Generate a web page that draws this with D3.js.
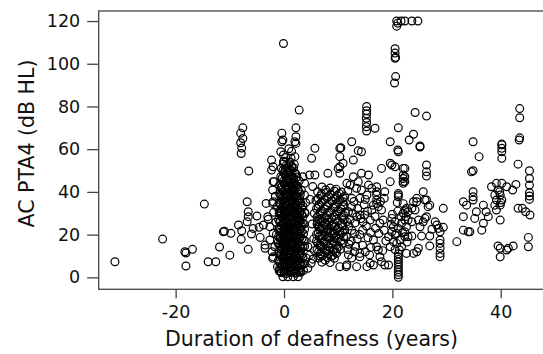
<!DOCTYPE html>
<html>
<head>
    <meta charset="utf-8">
    <title>PTA4 vs duration of deafness</title>
    <script src="https://d3js.org/d3.v7.min.js"></script>
    <style>
        body { margin: 0; background: #fff; }
        text { font-family: "DejaVu Sans", Verdana, sans-serif; fill: #111; }
    </style>
</head>
<body>
    <div id="view"></div>
    <script>
        // tick values
        var xTicks = [-20, 0, 20, 40];
        var yTicks = [0, 20, 40, 60, 80, 100, 120];

        // points, [years, dB HL], grouped by region
        var leftTail = [[-31.2,7.3],[-22.4,17.9],[-18.3,12.0],[-18.1,11.4],[-16.9,13.1],[-18.1,5.3],[-14.7,34.3],[-14.0,7.3],[-12.6,7.3],
            [-11.9,14.2],[-11.2,21.3],[-11.0,21.6],[-10.0,10.4],[-9.8,20.6],[-8.4,24.5],[-7.8,21.8],[-7.9,17.8],[-6.6,13.1],[-6.8,35.4],
            [-6.5,49.8],[-6.6,30.7],[-6.6,28.4],[-6.8,26.0],[-5.0,28.7],[-5.7,22.9],[-6.0,20.3],[-4.6,23.4],[-3.8,24.5],[-2.9,27.2],
            [-4.4,18.7],[-3.3,34.6],[-2.1,34.6],[-3.5,15.1],[-3.5,13.6],[-2.1,8.9],[-2.1,40.9],[-1.8,44.8],[-2.3,54.9],[-2.3,50.2],
            [-7.6,70.0],[-8.0,67.5],[-7.6,65.0],[-8.0,63.0],[-7.8,60.5],[-7.9,58.0],[-3.0,28.4],[-2.6,23.7],[-2.0,20.6],[-2.6,17.5],
            [-1.7,14.3],[-2.0,9.6],[-2.0,51.8],[-2.0,44.8],[-2.0,35.4],[-1.6,38.0],[-1.9,30.5],[-1.5,25.8],[-2.2,12.0]];

        var onsetColumn = [[-0.1,109.5],[-0.4,67.5],[-0.4,63.5],[2.2,70.0],[2.2,65.8],[2.2,62.7],[-0.2,64.3],[2.0,63.5],[2.8,78.3],
            [-0.1,57.3],[-0.1,54.1],[2.0,56.5],[0.9,60.2],[1.4,59.0],[-0.6,58.8],[3.2,40.9],[3.8,38.5],[2.9,37.0],[3.5,47.1],[4.7,47.9],
            [5.1,55.7],[5.7,60.4],[4.4,14.3],[4.7,10.4],[5.0,6.6],[4.4,4.2],[-0.2,0.3],[0.7,0.3],[1.7,0.3],[2.6,0.3],
            [-0.5,2.1],[0.4,1.8],[1.3,2.3],[2.2,1.9],[3.1,2.4],[-0.8,4.2],[0.1,3.9],[1.0,4.4],[2.0,4.0],[2.9,4.3],
            [-0.3,6.1],[0.6,5.8],[1.5,6.3],[2.5,6.0],[3.4,6.2],[-1.0,8.0],[0.0,8.3],[0.9,7.9],[1.9,8.2],[2.8,7.8],
            [-0.6,10.1],[0.3,9.8],[1.2,10.3],[2.3,10.0],[3.2,10.2],[-0.9,12.2],[0.2,11.9],[1.1,12.4],[2.0,12.0],[3.0,12.3],
            [-0.4,14.0],[0.5,14.3],[1.4,13.8],[2.4,14.1],[3.5,14.4],[-1.1,16.2],[-0.1,15.9],[0.8,16.4],[1.7,16.0],[2.7,16.3],
            [-0.7,18.1],[0.3,17.8],[1.3,18.3],[2.2,18.0],[3.3,18.2],[-0.2,20.0],[0.7,20.3],[1.6,19.8],[2.6,20.1],[3.6,20.4],
            [-1.0,22.2],[0.0,21.9],[1.0,22.4],[1.9,22.0],[2.9,22.3],[-0.5,24.1],[0.4,23.8],[1.3,24.3],[2.3,24.0],[3.2,24.2],
            [-0.8,26.0],[0.2,26.3],[1.1,25.8],[2.1,26.1],[3.0,26.4],[-0.3,28.2],[0.6,27.9],[1.5,28.4],[2.5,28.0],[3.5,28.3],
            [-0.9,30.1],[0.1,29.8],[1.0,30.3],[2.0,30.0],[2.9,30.2],[-0.4,32.0],[0.5,32.3],[1.4,31.8],[2.4,32.1],[3.3,32.4],
            [-0.7,34.2],[0.3,33.9],[1.2,34.4],[2.2,34.0],[-0.2,36.1],[0.8,35.8],[1.7,36.3],[2.7,36.0],
            [-0.6,38.0],[0.4,38.3],[1.3,37.8],[2.3,38.1],[-0.1,40.2],[0.9,39.9],[1.8,40.4],[2.8,40.0],
            [-0.5,42.1],[0.5,41.8],[1.5,42.3],[2.4,42.6],[0.0,44.0],[1.0,44.3],[2.0,43.8],[-0.3,46.2],[0.7,45.9],[1.7,46.4],
            [0.2,48.1],[1.2,47.8],[2.2,48.3],[-0.2,50.0],[0.8,50.3],[1.8,51.2],[0.4,52.4],[1.4,52.0],[0.0,54.3],[1.1,54.0],
            [3.9,30.0],[3.7,25.0],[4.0,35.0],[-1.4,20.0],[-1.3,33.0],[3.9,17.0],[4.1,9.0],[-1.2,5.0],[3.8,44.0],
            [-0.9,3.1],[0.0,2.9],[0.9,3.2],[1.8,3.0],[2.7,2.8],[3.6,3.3],[-0.4,5.0],[0.5,5.2],[1.4,4.9],[2.3,5.1],[3.2,5.3],
            [-0.9,7.1],[0.0,6.9],[1.0,7.2],[2.0,7.0],[3.0,6.8],[-0.3,9.0],[0.6,9.2],[1.5,8.9],[2.5,9.1],[3.5,9.3],
            [-1.0,11.1],[0.0,10.9],[0.9,11.2],[1.9,11.0],[2.8,10.8],[-0.5,13.0],[0.4,13.2],[1.3,12.9],[2.3,13.1],[3.2,13.3],
            [-0.9,15.1],[0.1,14.9],[1.0,15.2],[2.0,15.0],[3.0,14.8],[-0.4,17.0],[0.5,17.2],[1.5,16.9],[2.5,17.1],[3.6,17.3],
            [-1.0,19.1],[0.0,18.9],[0.9,19.2],[1.9,19.0],[2.9,18.8],[-0.6,21.0],[0.4,21.2],[1.3,20.9],[2.3,21.1],[3.2,21.3],
            [-0.9,23.1],[0.1,22.9],[1.0,23.2],[2.0,23.0],[3.0,22.8],[-0.3,25.0],[0.6,25.2],[1.5,24.9],[2.5,25.1],[3.4,25.3],
            [-1.0,27.1],[0.0,26.9],[0.9,27.2],[1.9,27.0],[2.9,26.8],[-0.5,29.0],[0.4,29.2],[1.4,28.9],[2.3,29.1],[3.3,29.3],
            [-0.8,31.1],[0.1,30.9],[1.1,31.2],[2.0,31.0],[3.0,30.8],[-0.3,33.0],[0.6,33.2],[1.6,32.9],[2.5,33.1],[3.5,33.3],
            [-0.9,35.1],[0.1,34.9],[1.0,35.2],[2.0,35.0],[3.1,34.8],[-0.4,37.0],[0.5,37.2],[1.5,36.9],[2.5,37.1],
            [-0.8,39.1],[0.1,38.9],[1.1,39.2],[2.0,39.0],[3.0,38.8],[-0.3,41.0],[0.7,41.2],[1.7,40.9],[2.6,41.1],
            [-0.8,43.1],[0.3,42.9],[1.3,43.2],[2.3,43.0],[-0.1,45.0],[0.9,45.2],[1.9,44.9],[2.8,45.1],
            [-0.6,47.1],[0.4,46.9],[1.4,47.2],[2.4,47.0],[0.0,49.0],[1.0,49.2],[2.0,48.9],
            [-0.5,51.1],[0.5,50.9],[1.5,51.2],[-0.1,53.0],[0.9,53.2],[1.9,52.9],[0.3,56.1],[1.3,55.8],
            [-0.65,2.6],[0.25,2.5],[1.15,2.7],[2.05,2.4],[2.95,2.6],[-0.65,6.6],[0.25,6.5],[1.15,6.7],[2.05,6.4],[2.95,6.6],[3.8,6.5],
            [-0.65,10.6],[0.25,10.5],[1.15,10.7],[2.05,10.4],[2.95,10.6],[-0.65,14.6],[0.25,14.5],[1.15,14.7],[2.05,14.4],[2.95,14.6],[3.8,14.5],
            [-0.65,18.6],[0.25,18.5],[1.15,18.7],[2.05,18.4],[2.95,18.6],[-0.65,22.6],[0.25,22.5],[1.15,22.7],[2.05,22.4],[2.95,22.6],[3.8,22.5],
            [-0.65,26.6],[0.25,26.5],[1.15,26.7],[2.05,26.4],[2.95,26.6],[-0.65,30.6],[0.25,30.5],[1.15,30.7],[2.05,30.4],[2.95,30.6],[3.8,30.5],
            [-0.65,34.6],[0.25,34.5],[1.15,34.7],[2.05,34.4],[2.95,34.6],[-0.65,38.6],[0.25,38.5],[1.15,38.7],[2.05,38.4],
            [-0.35,42.6],[0.65,42.5],[1.75,42.7],[-0.35,46.6],[0.65,46.5],[1.75,46.7],[0.25,50.6],[1.15,50.5]];

        var earlyCluster = [[7.0,42.3],[8.5,41.8],[6.2,40.1],[7.8,39.8],[9.3,40.4],[10.6,39.9],[6.8,38.2],[8.2,37.7],[9.8,38.3],[11.2,37.9],
            [5.9,36.0],[7.4,36.4],[8.9,35.8],[10.3,36.2],[6.5,34.1],[8.0,33.8],[9.5,34.3],[11.0,34.0],[6.0,32.2],[7.5,31.9],[9.1,32.4],[10.5,32.0],
            [6.7,30.0],[8.3,30.3],[9.8,29.8],[11.3,30.1],[6.1,28.2],[7.6,27.9],[9.2,28.4],[10.7,28.0],[6.9,26.1],[8.4,25.8],[10.0,26.3],
            [6.3,24.0],[7.9,24.3],[9.4,23.8],[10.9,24.1],[6.6,22.2],[8.1,21.9],[9.7,22.4],[11.2,22.0],[6.0,20.1],[7.5,19.8],[9.0,20.3],[10.4,20.0],
            [6.8,18.0],[8.3,18.3],[9.9,17.8],[6.2,16.1],[7.7,15.8],[9.3,16.3],[10.8,16.0],[6.9,14.2],[8.5,13.9],[10.1,14.4],
            [6.4,12.0],[7.9,12.3],[9.5,11.8],[7.1,10.1],[8.7,9.8],[7.6,8.0],
            [8.1,48.7],[10.0,51.0],[10.3,48.7],[10.3,60.4],[10.3,56.5],[5.7,47.9],[10.3,5.0],[11.5,5.0],[5.3,8.5],[5.6,12.5],
            [5.5,18.0],[5.2,25.0],[5.6,30.0],[4.8,36.5],[5.3,42.5],
            [7.7,41.0],[9.6,41.3],[6.9,39.1],[8.6,38.9],[10.2,39.2],[6.3,37.0],[7.9,37.2],[9.5,36.9],[10.9,37.1],
            [6.9,35.1],[8.4,34.9],[10.0,35.2],[6.3,33.0],[7.8,33.2],[9.4,32.9],[10.9,33.1],[6.9,31.1],[8.5,30.9],[10.0,31.2],
            [6.4,29.0],[7.9,29.2],[9.5,28.9],[11.0,29.1],[6.5,27.1],[8.0,26.9],[9.6,27.2],[11.1,27.0],
            [6.1,25.0],[7.6,25.2],[9.2,24.9],[10.6,25.1],[6.9,23.1],[8.4,22.9],[10.0,23.2],
            [6.3,21.0],[7.8,21.2],[9.4,20.9],[10.8,21.1],[6.5,19.1],[8.0,18.9],[9.6,19.2],[11.0,19.0],
            [6.0,17.0],[7.5,17.2],[9.1,16.9],[10.5,17.1],[6.6,15.1],[8.1,14.9],[9.7,15.2],
            [6.1,13.0],[7.6,13.2],[9.1,12.9],[10.4,13.1],[6.7,11.1],[8.2,10.9],[9.7,11.2],
            [6.4,9.0],[8.0,9.2],[9.3,8.9],[7.0,7.1],[8.5,6.9],
            [6.75,9.9],[7.5,11.6],[8.25,12.5],[9.0,10.2],[6.75,14.9],[7.25,16.5],[8.75,15.6],[9.75,13.5],[7.0,19.5],
            [8.6,20.6],[9.2,18.4],[6.5,23.5],[7.3,22.6],[8.8,24.6],[10.3,21.6],[7.0,27.5],[8.8,27.6],[6.2,26.2]];

        var midSpread = [[12.8,54.9],[10.9,53.4],[10.3,51.8],[18.0,51.0],[19.9,52.6],[20.5,51.8],[19.6,53.4],[14.3,48.7],[15.6,47.9],
            [12.8,47.1],[13.7,44.8],[11.6,44.0],[12.2,43.2],[19.6,44.8],[17.1,42.4],[17.1,40.1],[17.1,38.5],[17.1,36.2],[17.1,34.6],
            [17.4,33.1],[18.6,40.1],[13.4,41.7],[14.3,40.9],[15.6,43.2],[16.2,41.7],[15.3,38.5],[12.5,37.0],[14.0,37.0],[10.9,35.4],
            [12.5,33.1],[11.9,30.7],[13.4,28.4],[14.0,29.2],[14.9,29.2],[14.6,26.0],[15.9,26.8],[16.2,31.5],[16.5,33.8],[18.0,31.5],
            [18.3,26.8],[17.7,25.3],[17.1,14.3],[17.4,12.8],[14.0,11.2],[14.0,9.6],[11.6,5.8],[13.4,5.0],[17.7,9.6],[18.0,7.3],
            [18.6,5.8],[19.3,5.8],[16.5,5.8],[15.9,6.6],[15.3,5.0],[12.5,63.5],[13.7,59.3],[14.3,58.8],[10.5,60.7],[19.6,63.5],[21.1,58.8],
            [12.0,24.0],[13.0,20.5],[12.4,17.0],[14.5,22.0],[15.5,18.5],[11.8,13.0],[13.2,14.5],[15.0,12.0],[16.0,21.0],[12.2,27.0],[11.5,19.0],
            [12.9,35.5],[14.8,34.0],[13.6,32.2],[15.4,31.0],[12.7,30.0],[14.2,27.5],[16.8,28.5],[13.1,25.5],[15.2,24.0],[16.9,23.0],
            [12.5,22.0],[14.0,20.0],[17.5,20.5],[13.5,18.0],[16.5,17.5],[12.0,15.5],[14.5,15.0],[16.0,14.0],[13.0,12.0],[15.8,10.5],
            [12.5,9.0],[18.5,22.0],[18.8,17.0],[18.2,12.5],[17.8,35.5],[15.0,36.5],[11.8,40.5],[18.5,37.0],[11.6,26.0],[11.9,10.5]];

        var col21 = [[19.9,27.6],[20.5,26.0],[20.2,23.7],[19.9,21.3],[20.5,19.8],[21.1,22.9],[21.7,25.3],[22.3,26.8],[22.0,30.0],[22.6,32.3],
            [21.4,17.5],[22.3,19.0],[21.7,14.3],[20.8,15.9],[20.2,16.7],[19.3,19.0],[19.6,14.3],[21.1,0.0],[21.1,1.2],[21.1,2.4],
            [21.1,3.6],[21.1,4.8],[21.1,6.0],[21.1,7.2],[21.1,8.4],[21.1,9.6],[21.1,11.0],[22.0,47.9],[22.0,46.3],[22.0,44.8],
            [22.0,44.0],[22.0,51.0],[21.1,39.3],[21.1,37.7],[21.1,38.5],
            [20.0,29.5],[21.0,31.0],[21.6,28.5],[20.8,20.5],[21.9,21.0],[22.7,16.5],[19.8,24.8],[22.5,28.5],[21.3,12.8],[20.5,13.0],
            [22.0,34.5],[20.9,35.0]];

        var lateSpread = [[25.1,61.5],[22.3,51.0],[22.3,47.1],[22.3,44.8],[26.3,52.6],[26.3,49.4],[26.3,47.4],[34.6,49.4],[25.7,40.1],
            [26.3,36.2],[24.5,35.4],[24.2,31.5],[23.6,32.3],[26.9,33.8],[29.4,32.3],[22.3,31.5],[22.9,30.7],[22.9,26.8],[23.6,26.0],
            [22.6,23.7],[22.3,21.3],[22.9,19.0],[26.0,27.6],[25.7,26.0],[25.1,23.7],[24.8,26.8],[27.9,26.0],[28.2,24.5],[28.5,22.9],
            [29.4,23.4],[28.8,21.3],[27.3,22.5],[33.1,28.4],[33.1,22.1],[34.0,21.3],[23.6,19.3],[25.4,19.3],[26.9,19.3],[28.8,17.5],
            [28.8,15.9],[28.8,13.6],[28.8,11.2],[28.8,9.6],[26.9,14.7],[31.9,16.7],[24.8,13.6],[24.5,12.0],[23.9,11.2],[22.6,11.2],
            [23.9,35.4],[24.5,37.0],[26.0,36.2],[26.6,33.1],[26.3,28.4],[33.1,35.4],[33.7,33.8],[24.2,77.2],[26.3,75.5],
            [23.1,64.3],[23.9,67.0],[25.1,61.0],[21.0,59.6],[34.9,63.5]];

        var farRight = [[43.4,64.3],[40.2,62.0],[40.2,58.8],[40.2,55.7],[36.0,56.5],[34.9,49.9],[43.2,53.0],[45.3,49.9],[45.3,46.3],
            [45.3,43.2],[45.3,39.6],[45.3,38.1],[45.3,36.5],[34.9,40.1],[34.9,36.2],[34.9,37.7],[38.3,42.4],[39.2,44.0],[40.2,44.0],
            [39.5,40.9],[39.9,38.5],[38.9,38.5],[39.2,36.2],[40.2,36.2],[38.9,33.8],[39.9,33.8],[39.2,31.5],[41.1,42.4],[42.2,40.9],
            [42.8,43.5],[39.9,26.8],[43.2,32.3],[44.0,32.3],[44.6,30.7],[45.4,29.2],[36.8,33.8],[37.3,30.7],[37.7,28.4],[35.5,30.7],
            [35.2,27.6],[36.8,25.3],[36.5,22.1],[34.3,21.3],[45.1,18.7],[45.1,14.3],[39.5,14.7],[39.9,13.6],[41.4,13.6],[42.3,14.7],
            [39.9,9.6],[41.1,12.8],[43.5,79.0],[43.5,74.7],[43.5,65.3],[40.2,62.4],[40.2,60.4],[39.8,40.0],[40.0,35.0]];

        var highValues = [[20.8,120],[21.6,120],[22.3,120],[23.6,120],[24.7,120],[20.8,117.6],[21.0,119.0],[20.5,107.0],[20.5,105.0],
            [20.6,103.0],[20.5,102.6],[20.6,94.0],[20.4,91.0],[15.25,80.0],[15.25,78.0],[15.25,76.5],[15.2,74.5],[15.25,72.5],
            [15.2,70.5],[15.25,68.5],[16.8,69.8],[21.1,70.0]];

        var groups = [leftTail, onsetColumn, earlyCluster, midSpread, col21, lateSpread, farRight, highValues];
        var points = d3.merge(groups);

        var width = 543;
        var height = 354;
        var plotLeft = 98.7;
        var plotTop = 11;
        var plotBottom = 289.3;

        var svg = d3.select("#view")
            .append("svg")
            .attr("width", width)
            .attr("height", height);

        var x = d3.scaleLinear().domain([-34.2, 47.8]).range([plotLeft, width]);
        var y = d3.scaleLinear().domain([-5.6, 124.7]).range([plotBottom, plotTop]);

        // plot box (runs off the right edge, as in the original)
        svg.append("rect")
            .attr("x", plotLeft)
            .attr("y", plotTop)
            .attr("width", width + 20 - plotLeft)
            .attr("height", plotBottom - plotTop)
            .attr("fill", "none")
            .attr("stroke", "#444")
            .attr("stroke-width", 1.3);

        // plain hyphen for negatives, like the original
        var plain = function (d) { return String(d); };

        var yAxis = svg.append("g")
            .attr("transform", "translate(" + plotLeft + ",0)")
            .call(d3.axisLeft(y).tickValues(yTicks).tickFormat(plain).tickSize(11.5).tickPadding(7));
        yAxis.select(".domain").remove();

        var xAxis = svg.append("g")
            .attr("transform", "translate(0," + plotBottom + ")")
            .call(d3.axisBottom(x).tickValues(xTicks).tickFormat(plain).tickSize(9).tickPadding(7.7));
        xAxis.select(".domain").remove();

        svg.selectAll(".tick line").attr("stroke", "#444").attr("stroke-width", 1.3);
        svg.selectAll(".tick text")
            .attr("font-family", "DejaVu Sans, Verdana, sans-serif")
            .attr("font-size", 17.5)
            .attr("fill", "#111");

        svg.append("g")
            .selectAll("circle")
            .data(points)
            .enter()
            .append("circle")
            .attr("cx", function (d) { return x(d[0]); })
            .attr("cy", function (d) { return y(d[1]); })
            .attr("r", 3.9)
            .attr("fill", "none")
            .attr("stroke", "#000")
            .attr("stroke-width", 1.2);

        svg.append("text")
            .attr("x", 311.5)
            .attr("y", 346)
            .attr("text-anchor", "middle")
            .attr("font-size", 20.5)
            .text("Duration of deafness (years)");

        svg.append("text")
            .attr("transform", "translate(34,143.5) rotate(-90)")
            .attr("text-anchor", "middle")
            .attr("font-size", 20.5)
            .text("AC PTA4 (dB HL)");
    </script>
</body>
</html>
